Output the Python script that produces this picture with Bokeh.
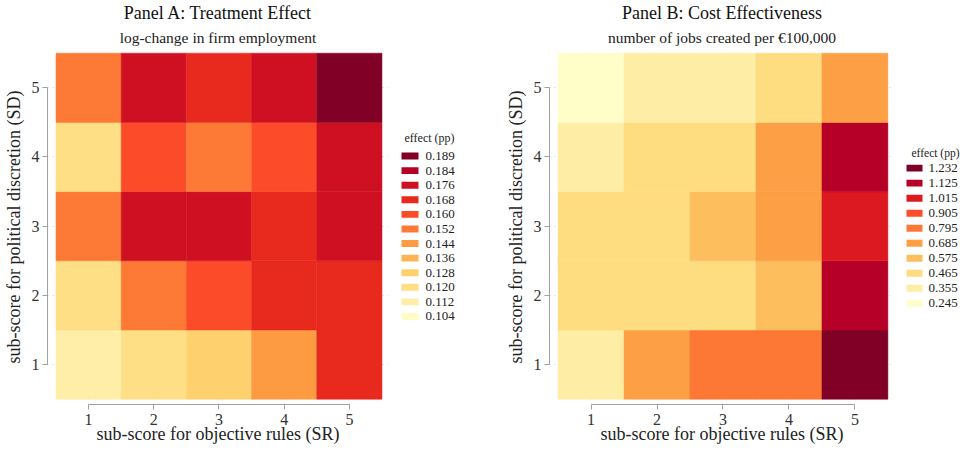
from bokeh.plotting import figure
from bokeh.models import FixedTicker, Title, Range1d, ColumnDataSource
from bokeh.layouts import row
from bokeh.transform import linear_cmap
from bokeh.core.properties import value
from bokeh.embed import file_html
from bokeh.resources import INLINE

# ---------------- data ----------------
sr_scores = [1, 2, 3, 4, 5]          # x: sub-score for objective rules
sd_scores = [1, 2, 3, 4, 5]          # y: sub-score for political discretion

# Panel A: treatment effect, rows SD = 1..5, columns SR = 1..5
effect_sd1 = [0.112, 0.120, 0.128, 0.144, 0.168]
effect_sd2 = [0.120, 0.152, 0.160, 0.168, 0.168]
effect_sd3 = [0.152, 0.176, 0.176, 0.168, 0.176]
effect_sd4 = [0.120, 0.160, 0.152, 0.160, 0.176]
effect_sd5 = [0.152, 0.176, 0.168, 0.176, 0.189]

# Panel B: jobs created per EUR 100,000, rows SD = 1..5, columns SR = 1..5
jobs_sd1 = [0.355, 0.685, 0.795, 0.795, 1.232]
jobs_sd2 = [0.465, 0.465, 0.465, 0.575, 1.125]
jobs_sd3 = [0.465, 0.465, 0.575, 0.685, 1.015]
jobs_sd4 = [0.355, 0.465, 0.465, 0.685, 1.125]
jobs_sd5 = [0.245, 0.355, 0.355, 0.465, 0.685]

legend_a_labels = ["0.104", "0.112", "0.120", "0.128", "0.136", "0.144",
                   "0.152", "0.160", "0.168", "0.176", "0.184", "0.189"]
legend_b_labels = ["0.245", "0.355", "0.465", "0.575", "0.685", "0.795",
                   "0.905", "1.015", "1.125", "1.232"]

palette_a = ["#fffcc5", "#feeea8", "#fedf86", "#fed06e", "#feb455", "#fd9b42",
             "#fd7a36", "#fc4b29", "#e8291e", "#cf1022", "#b30026", "#800026"]
palette_b = ["#fffdc8", "#feeda4", "#fedc80", "#fdbe5d", "#fd9f44", "#fd7835",
             "#fc4e2a", "#dc1820", "#b60027", "#800026"]

FONT = "Liberation Serif"
AXIS_GREY = "#a0a0a0"
H = 447
TOP, BOTTOM = 45, 43
Y_LO, Y_HI = 0.424, 5.553
X_LO, X_HI = 0.37, 5.6


def make_panel(title, subtitle, rows, palette, low, high, width, border_left):
    xs, ys, vals = [], [], []
    for sd, vrow in zip(sd_scores, rows):
        for sr, v in zip(sr_scores, vrow):
            xs.append(sr)
            ys.append(sd)
            vals.append(v)
    src = ColumnDataSource(dict(x=xs, y=ys, v=vals))

    p = figure(width=width, height=H, output_backend="svg",
               toolbar_location=None, title=None,
               x_range=Range1d(X_LO, X_HI), y_range=Range1d(Y_LO, Y_HI),
               min_border_left=border_left, min_border_right=0,
               min_border_top=TOP, min_border_bottom=BOTTOM)
    p.outline_line_color = None
    p.background_fill_color = "white"
    p.border_fill_color = "white"

    cmap = linear_cmap("v", palette, low, high)
    p.rect(x="x", y="y", width=1, height=1, source=src,
           fill_color=cmap, line_color=cmap, line_width=0.5)

    for ax in (p.xaxis[0], p.yaxis[0]):
        ax.ticker = FixedTicker(ticks=[1, 2, 3, 4, 5])
        ax.bounds = (1, 5)
        ax.axis_line_color = AXIS_GREY
        ax.major_tick_line_color = AXIS_GREY
        ax.major_tick_out = 5
        ax.major_tick_in = 0
        ax.minor_tick_line_color = None
        ax.major_label_text_font = FONT
        ax.major_label_text_font_size = "16px"
        ax.major_label_text_color = "#333333"
        ax.axis_label_text_font = FONT
        ax.axis_label_text_font_size = "18px"
        ax.axis_label_text_font_style = "normal"
        ax.axis_label_text_color = "#222222"
    p.xaxis.axis_label = "sub-score for objective rules (SR)"
    p.yaxis.axis_label = "sub-score for political discretion (SD)"
    p.xaxis.major_label_standoff = 4
    p.xaxis.axis_label_standoff = -4
    p.yaxis.major_label_standoff = 3
    p.yaxis.axis_label_standoff = 5
    p.yaxis.major_label_orientation = "horizontal"

    for g in (p.xgrid[0], p.ygrid[0]):
        g.ticker = FixedTicker(ticks=[1, 2, 3, 4, 5])
        g.grid_line_color = "#cfcfcf"
        g.grid_line_dash = "1 4"
        g.grid_line_width = 1

    p.add_layout(Title(text=subtitle, align="center", text_font=FONT,
                       text_font_size="15.5px", text_font_style="normal",
                       text_color="#222222", standoff=7), "above")
    p.add_layout(Title(text=title, align="center", text_font=FONT,
                       text_font_size="18px", text_font_style="normal",
                       text_color="#111111", standoff=1), "above")
    return p


def make_legend(palette, labels, width, sw_left, sw_w, first_y, step,
                title_x, title_y, title_size, gap):
    # legend column sharing the panel's vertical scale (SD units)
    q = figure(width=width, height=H, output_backend="svg",
               toolbar_location=None, title=None,
               x_range=Range1d(0, width), y_range=Range1d(Y_LO, Y_HI),
               min_border_left=0, min_border_right=0,
               min_border_top=TOP, min_border_bottom=BOTTOM,
               x_axis_type=None, y_axis_type=None)
    q.outline_line_color = None
    q.xgrid.visible = False
    q.ygrid.visible = False
    q.background_fill_color = "white"
    q.border_fill_color = "white"

    n = len(labels)
    order = list(range(n))[::-1]           # top row = highest bin
    ys = [first_y - k * step for k in range(n)]
    cols = [palette[i] for i in order]
    labs = [labels[i] for i in order]
    src = ColumnDataSource(dict(y=ys, c=cols, t=labs))
    q.rect(x=sw_left + sw_w / 2, y="y", width=sw_w, height=0.1, source=src,
           fill_color="c", line_color=None)
    q.text(x=sw_left + sw_w + gap, y="y", text="t", source=src,
           text_font=value(FONT), text_font_size="13px",
           text_baseline="middle", text_align="left", text_color="#222222")
    q.text(x=[title_x], y=[title_y], text=["effect (pp)"],
           text_font=value(FONT), text_font_size=title_size,
           text_baseline="middle", text_align="left", text_color="#222222")
    return q


pa = make_panel("Panel A: Treatment Effect", "log-change in firm employment",
                [effect_sd1, effect_sd2, effect_sd3, effect_sd4, effect_sd5],
                palette_a, 0.100, 0.196, width=388, border_left=43)
la = make_legend(palette_a, legend_a_labels, width=97, sw_left=13, sw_w=17,
                 first_y=4.014, step=0.2107, title_x=16, title_y=4.281,
                 title_size="12px", gap=7)
pb = make_panel("Panel B: Cost Effectiveness",
                "number of jobs created per \u20ac100,000",
                [jobs_sd1, jobs_sd2, jobs_sd3, jobs_sd4, jobs_sd5],
                palette_b, 0.19, 1.29, width=409, border_left=64)
lb = make_legend(palette_b, legend_b_labels, width=66, sw_left=12, sw_w=16,
                 first_y=3.839, step=0.217, title_x=17, title_y=4.053,
                 title_size="11.5px", gap=6)

layout = row(pa, la, pb, lb, spacing=0)
open("out.html", "w").write(file_html(layout, INLINE))
